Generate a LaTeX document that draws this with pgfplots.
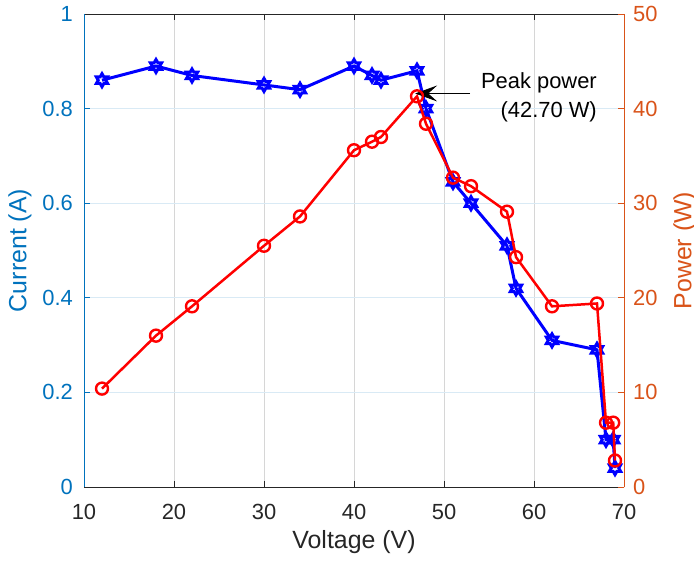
\documentclass[border=0pt]{standalone}
\usepackage{pgfplots}
\pgfplotsset{compat=1.18}
\usepackage{pgfplotstable}
\usetikzlibrary{arrows.meta}
\usepackage{fontspec}
\setmainfont{Liberation Sans}
\definecolor{lblue}{rgb}{0,0.447,0.741}
\definecolor{rorange}{rgb}{0.85,0.325,0.098}
\definecolor{axgray}{rgb}{0.15,0.15,0.15}
\definecolor{ygridc}{rgb}{0.85,0.917,0.961}
\definecolor{xgridc}{rgb}{0.84,0.84,0.84}

\pgfdeclareplotmark{hexagram}{%
  \pgfpathmoveto{\pgfpointpolar{90}{\pgfplotmarksize}}%
  \pgfpathlineto{\pgfpointpolar{120}{0.57735\pgfplotmarksize}}%
  \pgfpathlineto{\pgfpointpolar{150}{\pgfplotmarksize}}%
  \pgfpathlineto{\pgfpointpolar{180}{0.57735\pgfplotmarksize}}%
  \pgfpathlineto{\pgfpointpolar{210}{\pgfplotmarksize}}%
  \pgfpathlineto{\pgfpointpolar{240}{0.57735\pgfplotmarksize}}%
  \pgfpathlineto{\pgfpointpolar{270}{\pgfplotmarksize}}%
  \pgfpathlineto{\pgfpointpolar{300}{0.57735\pgfplotmarksize}}%
  \pgfpathlineto{\pgfpointpolar{330}{\pgfplotmarksize}}%
  \pgfpathlineto{\pgfpointpolar{0}{0.57735\pgfplotmarksize}}%
  \pgfpathlineto{\pgfpointpolar{30}{\pgfplotmarksize}}%
  \pgfpathlineto{\pgfpointpolar{60}{0.57735\pgfplotmarksize}}%
  \pgfpathclose
  \pgfusepathqstroke
}

\pgfplotstableread{
V I P
12 0.86 10.4
18 0.89 16.0
22 0.87 19.1
30 0.85 25.5
34 0.84 28.6
40 0.89 35.6
42 0.87 36.5
43 0.86 37.0
47 0.88 41.3
48 0.80 38.4
51 0.645 32.7
53 0.60 31.8
57 0.51 29.1
58 0.42 24.3
62 0.31 19.1
67 0.29 19.4
68 0.10 6.8
68.8 0.10 6.8
69 0.04 2.8
}\datatable

\pgfplotsset{
  mystyle/.style={
    scale only axis, width=540bp, height=473bp,
    xmin=10, xmax=70,
    /pgf/number format/assume math mode=true,
    tick label style={font=\fontsize{22}{26}\selectfont},
    label style={font=\fontsize{25}{30}\selectfont},
    tick align=inside,
    major tick length=6bp,
  }
}

\begin{document}
\begin{tikzpicture}
\begin{axis}[mystyle, name=ax,
  ymin=0, ymax=1,
  xtick={10,20,30,40,50,60,70},
  ytick={0,0.2,0.4,0.6,0.8,1},
  yticklabels={0,0.2,0.4,0.6,0.8,1},
  xtick pos=both, ytick pos=left,
  separate axis lines,
  x axis line style={color=axgray, line width=0.8bp},
  y axis line style={color=lblue, line width=0.8bp},
  xtick style={color=axgray, line width=0.8bp},
  ytick style={color=lblue, line width=0.8bp},
  xticklabel style={color=axgray, inner sep=0pt, anchor=north, yshift=-17bp},
  yticklabel style={color=lblue, inner sep=0pt, anchor=east, xshift=-11bp},
  xmajorgrids, ymajorgrids,
  x grid style={color=xgridc, line width=0.8bp},
  y grid style={color=ygridc, line width=0.8bp},
  xlabel={Voltage (V)},
  xlabel style={color=axgray, at={(axis description cs:0.5,-0.1163)}, anchor=center},
  ylabel={Current (A)},
  ylabel style={color=lblue, at={(axis description cs:-0.1185,0.5)}, anchor=center},
]
\addplot[color=blue, line width=3bp, mark=hexagram, mark size=6.5bp,
  mark options={line width=3bp, solid, line join=miter}] table[x=V, y=I] {\datatable};
\end{axis}
\begin{axis}[mystyle,
  ymin=0, ymax=50,
  axis x line=none,
  axis y line*=right,
  ytick={0,10,20,30,40,50},
  y axis line style={color=rorange, line width=0.8bp},
  ytick style={color=rorange, line width=0.8bp},
  yticklabel style={color=rorange, inner sep=0pt, anchor=west, xshift=9bp},
  ylabel={Power (W)},
  ylabel style={color=rorange, at={(axis description cs:1.113,0.5)}, anchor=center},
  clip=false,
]
\addplot[color=red, line width=2.5bp, mark=o, mark size=6bp,
  mark options={line width=2.4bp, solid}] table[x=V, y=P] {\datatable};
\draw[black, line width=0.8bp, -{Stealth[length=22bp, width=16bp, inset=9bp]}]
  (axis cs:52.9,41.6) -- (axis cs:46.8,41.6);
\node[anchor=east, align=right, inner sep=0pt, text=black,
  font=\fontsize{22}{29}\selectfont] at (axis cs:67.0,41.2) {Peak power\\(42.70 W)};
\end{axis}
\pgfresetboundingbox
\path[use as bounding box] ([shift={(-84bp,-74bp)}]ax.south west) rectangle ([shift={(70bp,14bp)}]ax.north east);
\end{tikzpicture}
\end{document}
